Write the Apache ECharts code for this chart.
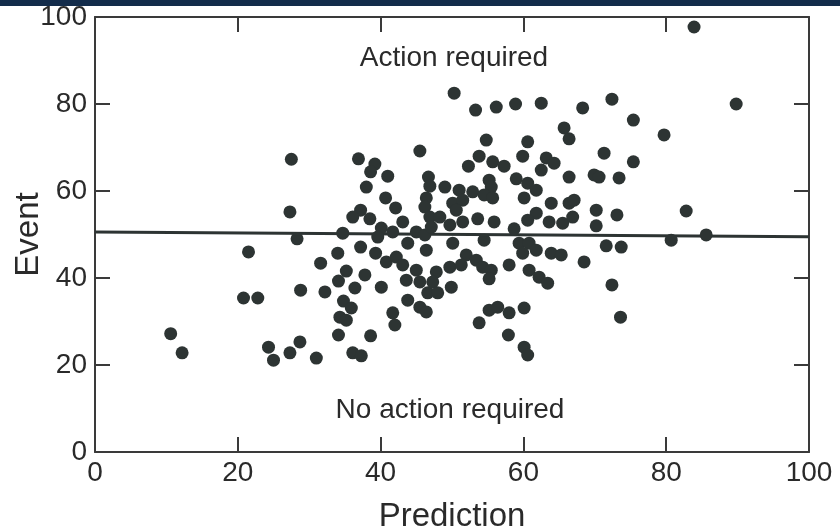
<!DOCTYPE html>
<html>
<head>
<meta charset="utf-8">
<script src="https://cdn.jsdelivr.net/npm/echarts@6/dist/echarts.min.js"></script>
<style>
  html, body { margin: 0; padding: 0; background: #ffffff; }
  #chart { width: 840px; height: 532px; }
</style>
</head>
<body>
<div id="chart"></div>
<script>
// [prediction, event]
var leftPts = [
    [10.6, 27.2], [12.2, 22.8], [20.8, 35.4], [22.8, 35.4], [21.5, 46.0], [24.3, 24.1],
    [25.0, 21.1], [27.3, 55.2], [27.5, 67.3], [28.3, 49.0], [28.8, 37.2], [27.3, 22.8],
    [28.7, 25.3], [31.0, 21.6], [31.6, 43.4], [32.2, 36.8]
];
var midLeftPts = [
    [36.9, 67.4], [39.2, 66.2], [38.6, 64.4], [41.0, 63.4], [38.0, 60.9], [45.5, 69.2],
    [46.7, 63.2], [46.9, 61.1], [40.7, 58.4], [42.1, 56.1], [46.4, 58.4], [46.2, 56.3],
    [37.2, 55.6], [36.1, 54.0], [38.5, 53.6], [43.1, 52.9], [46.9, 54.0], [40.1, 51.5],
    [34.7, 50.3], [39.6, 49.4], [41.7, 50.6], [45.0, 50.6], [46.2, 49.9], [43.8, 48.0],
    [37.2, 47.1], [39.3, 45.7], [34.0, 45.7], [46.4, 46.4], [40.8, 43.7], [42.2, 44.8],
    [43.1, 43.0], [35.2, 41.6], [37.8, 40.7], [45.0, 41.8], [34.1, 39.3], [36.4, 37.7],
    [40.1, 37.9], [43.6, 39.5], [45.5, 39.1], [46.6, 36.6], [34.8, 34.7], [35.9, 33.1],
    [34.3, 31.0], [35.2, 30.3], [43.8, 34.9], [45.5, 33.3], [46.4, 32.2], [41.7, 32.0],
    [42.0, 29.2], [34.1, 26.9], [38.6, 26.7], [36.1, 22.8], [37.3, 22.1]
];
var midRightPts = [
    [50.3, 82.5], [53.3, 78.6], [56.2, 79.3], [58.9, 80.0], [62.5, 80.2], [65.7, 74.5],
    [66.4, 72.0], [54.8, 71.7], [60.6, 71.3], [53.8, 68.0], [59.9, 68.0], [52.3, 65.7],
    [55.7, 66.7], [57.3, 65.7], [63.2, 67.6], [64.3, 66.4], [62.5, 64.8], [49.0, 60.9],
    [51.0, 60.2], [52.9, 59.8], [55.2, 62.5], [55.5, 60.9], [54.5, 59.1], [59.0, 62.8],
    [60.6, 61.8], [61.8, 60.2], [66.4, 63.2], [60.1, 58.4], [55.7, 58.4], [50.1, 57.2],
    [51.5, 57.9], [50.6, 55.6], [61.8, 54.9], [63.9, 57.2], [66.4, 57.2], [48.3, 54.0],
    [51.5, 52.9], [53.6, 53.6], [55.9, 52.9], [60.6, 53.3], [63.6, 52.9], [65.5, 52.6],
    [47.1, 51.7], [49.7, 52.2], [58.7, 51.3], [54.5, 48.7], [50.1, 48.0], [59.4, 48.0],
    [60.8, 48.0], [52.0, 45.3], [53.4, 44.1], [54.3, 42.5], [55.5, 41.8], [58.0, 43.0],
    [59.9, 45.7], [61.8, 46.4], [63.9, 45.7], [65.3, 45.3], [49.7, 42.5], [47.8, 41.4],
    [51.3, 43.0], [55.2, 39.8], [60.8, 41.8], [62.2, 40.2], [63.4, 38.8], [47.3, 39.1],
    [49.9, 37.9], [48.0, 36.6], [55.2, 32.6], [56.4, 33.3], [58.0, 32.0], [60.1, 33.1],
    [53.8, 29.7], [57.9, 26.9], [60.1, 24.1], [60.6, 22.3]
];
var rightPts = [
    [72.4, 81.1], [68.3, 79.1], [75.4, 76.3], [79.7, 72.9], [71.3, 68.7], [75.4, 66.7],
    [69.9, 63.7], [70.6, 63.2], [73.4, 63.0], [67.1, 57.9], [70.2, 55.6], [73.1, 54.5],
    [66.9, 54.0], [70.2, 52.0], [71.6, 47.4], [73.7, 47.1], [80.7, 48.7], [85.6, 49.9],
    [82.8, 55.4], [68.5, 43.7], [72.4, 38.4], [73.6, 31.0], [83.9, 97.7], [89.8, 80.0]
];
var thresholdLine = [[0, 50.6], [100, 49.5]];
var tickValues = [0, 20, 40, 60, 80, 100];

var allPts = leftPts.concat(midLeftPts, midRightPts, rightPts);

var ink = '#2d3433';
var axisLine = { show: true, onZero: false, lineStyle: { color: '#3a3a3a', width: 2 } };
var tick = { show: true, inside: true, length: 15, lineStyle: { color: '#3a3a3a', width: 2 } };
var font = 'Liberation Sans, Arial, sans-serif';

var myChart = echarts.init(document.getElementById('chart'));

var option = {
    animation: false,
    backgroundColor: '#ffffff',
    grid: { left: 95, right: 31, top: 17, bottom: 80, outerBoundsMode: 'none' },
    xAxis: [{
        type: 'value', min: tickValues[0], max: tickValues[5], interval: 20,
        position: 'bottom',
        axisLine: axisLine, axisTick: tick, splitLine: { show: false },
        axisLabel: { fontSize: 28, color: '#2a2a2a', margin: 7, fontFamily: font },
        name: 'Prediction', nameLocation: 'middle', nameGap: 48,
        nameTextStyle: { fontSize: 33, color: '#2a2a2a', fontFamily: font }
    }, {
        type: 'value', min: 0, max: 100, interval: 20,
        position: 'top',
        axisLine: axisLine, axisTick: tick, splitLine: { show: false },
        axisLabel: { show: false }
    }],
    yAxis: [{
        type: 'value', min: 0, max: 100, interval: 20,
        position: 'left',
        axisLine: axisLine, axisTick: tick, splitLine: { show: false },
        axisLabel: { fontSize: 28, color: '#2a2a2a', margin: 8, fontFamily: font },
        name: 'Event', nameLocation: 'middle', nameGap: 50, nameMoveOverlap: false,
        nameTextStyle: { fontSize: 33, color: '#2a2a2a', fontFamily: font }
    }, {
        type: 'value', min: 0, max: 100, interval: 20,
        position: 'right',
        axisLine: axisLine, axisTick: tick, splitLine: { show: false },
        axisLabel: { show: false }
    }],
    series: [{
        name: 'threshold',
        type: 'line',
        data: thresholdLine,
        symbol: 'none',
        lineStyle: { color: ink, width: 3 },
        z: 2
    }, {
        name: 'cases',
        type: 'scatter',
        data: allPts,
        symbolSize: 13,
        itemStyle: { color: ink, opacity: 1 },
        z: 3
    }],
    graphic: [{
        type: 'text', x: 454, y: 58,
        style: { text: 'Action required', font: '28px Liberation Sans', fill: '#2a2a2a', align: 'center', verticalAlign: 'middle' }
    }, {
        type: 'text', x: 450, y: 410,
        style: { text: 'No action required', font: '28px Liberation Sans', fill: '#2a2a2a', align: 'center', verticalAlign: 'middle' }
    }, {
        type: 'rect', left: 0, top: 0, z: 100,
        shape: { width: 840, height: 6 },
        style: { fill: '#132c4b' }
    }]
};

myChart.setOption(option);
</script>
</body>
</html>
